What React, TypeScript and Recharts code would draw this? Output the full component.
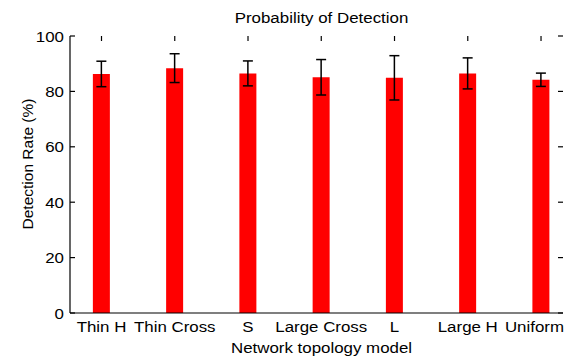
import React from "react";
import { ComposedChart, Bar, XAxis, YAxis, ErrorBar, ReferenceLine } from "recharts";

const categories = ["Thin H", "Thin Cross", "S", "Large Cross", "L", "Large H", "Uniform"];
const detectionRate = [86.3, 88.4, 86.5, 85.1, 84.9, 86.5, 84.2];
const errorMargin = [4.6, 5.2, 4.5, 6.4, 8.0, 5.6, 2.4];
const yTicks = [0, 20, 40, 60, 80, 100];

const data = categories.map((name, i) => ({
  pos: i + 1,
  name,
  rate: detectionRate[i],
  err: errorMargin[i],
}));
const xTicks = data.map((d) => d.pos);

const X_MIN = 0.57;
const X_MAX = 7.3;
const Y_MIN = 0;
const Y_MAX = 100;
// inward tick lengths expressed in data units (~5px)
const X_TICK_UNITS = 1.8; // along y
const Y_TICK_UNITS = 0.068; // along x

const FONT = "'Liberation Sans', Arial, Helvetica, sans-serif";
const FS = 15.5;
const SX = 1.09;

const HText = ({ x, y, anchor = "middle", size = FS, children }: any) => (
  <text
    x={0}
    y={0}
    transform={`translate(${x} ${y}) scale(${SX} 1)`}
    textAnchor={anchor}
    fontSize={size}
    fontFamily={FONT}
    fill="#000"
  >
    {children}
  </text>
);

const LeftTick = (props: any) => {
  const x = Number(props.x);
  const y = Number(props.y);
  return (
    <HText x={x} y={y + 5.5} anchor="end">
      {props.payload.value}
    </HText>
  );
};

const BottomTick = (props: any) => {
  const x = Number(props.x);
  const y = Number(props.y);
  const idx = Math.round(Number(props.payload.value)) - 1;
  const label = categories[idx] ?? "";
  const isLast = idx === categories.length - 1;
  return (
    <HText x={isLast ? 564 : x} y={y + 15} anchor={isLast ? "end" : "middle"}>
      {label}
    </HText>
  );
};

const tickStyle = { stroke: "#000", strokeWidth: 1.2 };

export default function App() {
  return (
    <div style={{ position: "absolute", left: 0, top: 0, width: 566, height: 363, background: "#fff" }}>
      <ComposedChart
        width={566}
        height={363}
        data={data}
        margin={{ top: 36, right: 3, bottom: 0, left: 0 }}
      >
        <XAxis
          xAxisId="b"
          dataKey="pos"
          type="number"
          domain={[X_MIN, X_MAX]}
          ticks={xTicks}
          allowDataOverflow
          height={50}
          tickSize={0}
          tickMargin={4}
          tickLine={false}
          axisLine={{ stroke: "#000", strokeWidth: 1.2 }}
          tick={<BottomTick />}
          interval={0}
        />
        <XAxis
          xAxisId="t"
          orientation="top"
          dataKey="pos"
          type="number"
          domain={[X_MIN, X_MAX]}
          allowDataOverflow
          height={0}
          tick={false}
          tickLine={false}
          axisLine={{ stroke: "#000", strokeWidth: 1.2 }}
        />
        <YAxis
          yAxisId="l"
          domain={[Y_MIN, Y_MAX]}
          ticks={yTicks}
          width={70}
          tickSize={0}
          tickMargin={6}
          tickLine={false}
          axisLine={{ stroke: "#000", strokeWidth: 1.2 }}
          tick={<LeftTick />}
          interval={0}
        />
        <YAxis
          yAxisId="r"
          orientation="right"
          domain={[Y_MIN, Y_MAX]}
          width={0}
          tick={false}
          tickLine={false}
          axisLine={{ stroke: "#000", strokeWidth: 1.2 }}
        />
        {yTicks.map((v) => (
          <ReferenceLine
            key={`yl${v}`}
            xAxisId="b"
            yAxisId="l"
            segment={[{ x: X_MIN, y: v }, { x: X_MIN + Y_TICK_UNITS, y: v }]}
            ifOverflow="visible"
            {...tickStyle}
          />
        ))}
        {yTicks.map((v) => (
          <ReferenceLine
            key={`yr${v}`}
            xAxisId="b"
            yAxisId="l"
            segment={[{ x: X_MAX - Y_TICK_UNITS, y: v }, { x: X_MAX, y: v }]}
            ifOverflow="visible"
            {...tickStyle}
          />
        ))}
        {xTicks.map((p) => (
          <ReferenceLine
            key={`xt${p}`}
            xAxisId="b"
            yAxisId="l"
            segment={[{ x: p, y: Y_MAX }, { x: p, y: Y_MAX - X_TICK_UNITS }]}
            ifOverflow="visible"
            {...tickStyle}
          />
        ))}
        <Bar
          dataKey="rate"
          xAxisId="b"
          yAxisId="l"
          fill="#ff0000"
          barSize={17}
          isAnimationActive={false}
        >
          <ErrorBar dataKey="err" width={5} stroke="#000" strokeWidth={1.5} direction="y" />
        </Bar>
        <HText x={321.5} y={23} size={15.5}>
          Probability of Detection
        </HText>
        <HText x={321.5} y={353}>
          Network topology model
        </HText>
        <text
          x={27}
          y={164}
          textAnchor="middle"
          dominantBaseline="central"
          transform="rotate(-90 27 164)"
          fontSize={FS}
          fontFamily={FONT}
          fill="#000"
        >
          Detection Rate (%)
        </text>
      </ComposedChart>
    </div>
  );
}
